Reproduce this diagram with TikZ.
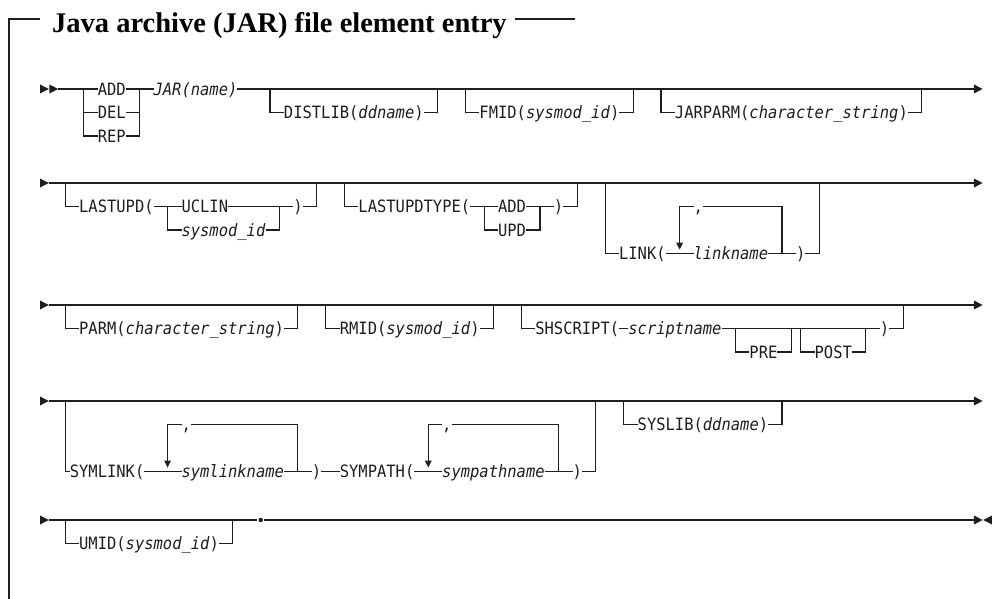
\documentclass[tikz,border=0pt]{standalone}
\usepackage{fontspec}
\setmainfont{Liberation Serif}
\newfontfamily\rrf[FakeStretch=0.91]{DejaVu Sans Mono}
\newcommand\rrsize{\rrf\fontsize{17pt}{17pt}\selectfont}
\newcommand\ttlfont{\rmfamily\bfseries\fontsize{28.5pt}{28.5pt}\selectfont}
\definecolor{ink}{HTML}{1E1E1E}
\begin{document}
\begin{tikzpicture}[x=9.31pt,y=-1pt,
  rail/.style={line width=1.1pt, draw=ink},
  framel/.style={line width=1.2pt, draw=ink},
  lbl/.style={anchor=west, inner sep=0pt, outer sep=0pt, text height=12.4pt, text depth=0pt, font=\rrsize, text=ink},
]
\useasboundingbox (0,0) rectangle (108.163,599);
\newcommand\RA[2]{\fill[ink] (#1,#2-4.5) -- (#1+0.95,#2) -- (#1,#2+4.5) -- cycle;}
\newcommand\LA[2]{\fill[ink] (#1,#2-4.5) -- (#1-0.95,#2) -- (#1,#2+4.5) -- cycle;}
\newcommand\DA[2]{\fill[ink] (#1-0.38,#2-11) -- (#1+0.38,#2-11) -- (#1,#2-4) -- cycle;}
\newcommand\optbox[6]{%
  \node[lbl] (#1) at (#4,#5+23.5) {#6};
  \draw[rail] (#2,#5) |- (#1.west);
  \draw[rail] (#1.east) -| (#3,#5);}

% frame and title
\node[anchor=base west, inner sep=0pt, font=\ttlfont] (title) at (5.585,33) {Java archive (JAR) file element entry};
\coordinate (fbot) at (0.967,599);
\coordinate (ftl) at (0.967,19);
\coordinate (fa) at (4.3,19);
\coordinate (fb) at (61.76,19);
\draw[framel] (fbot) -- (ftl) -- (fa);
\draw[framel] ([xshift=8pt]title.east |- fb) -- (fb);

% ---------------- row 1 ----------------
\RA{4.3}{89}\RA{5.3}{89}
\coordinate (s1) at (6.25,89);
\coordinate (e1) at (104.6,89);
\node[lbl] (add1) at (10.5,89) {ADD};
\node[lbl] (jar) at (16.5,89) {\textit{JAR(name)}};
\node[lbl] (del) at (10.5,112.5) {DEL};
\node[lbl] (rep) at (10.5,136) {REP};
\coordinate (c1a) at (9,89);
\coordinate (c1b) at (15,89);
\draw[rail] (s1) -- (add1.west);
\draw[rail] (add1.east) -- (jar.west);
\draw[rail] (jar.east) -- (e1);
\draw[rail] (c1a) |- (rep.west);
\draw[rail] (c1a |- del.west) -- (del.west);
\draw[rail] (del.east) -- (c1b |- del.east);
\draw[rail] (rep.east) -| (c1b);
\RA{104.6}{89}
\optbox{distlib}{29}{47}{30.5}{89}{DISTLIB(\textit{ddname})}
\optbox{fmid}{50}{68}{51.5}{89}{FMID(\textit{sysmod\_id})}
\optbox{jarparm}{71}{99}{72.5}{89}{JARPARM(\textit{character\_string})}

% ---------------- row 2 ----------------
\RA{4.3}{183}
\coordinate (s2) at (5.25,183);
\coordinate (e2) at (104.6,183);
\draw[rail] (s2) -- (e2);
\RA{104.6}{183}
\node[lbl] (lu) at (8.5,206.5) {LASTUPD(};
\node[lbl] (uclin) at (19.5,206.5) {UCLIN};
\node[lbl] (lusm) at (19.5,230) {\textit{sysmod\_id}};
\node[lbl] (rp1) at (31.5,206.5) {)};
\draw[rail] (7,183) |- (lu.west);
\draw[rail] (lu.east) -- (uclin.west);
\draw[rail] (uclin.east) -- (rp1.west);
\draw[rail] (18,206.5) |- (lusm.west);
\draw[rail] (lusm.east) -| (30,206.5);
\draw[rail] (rp1.east) -| (34,183);
\node[lbl] (lut) at (38.5,206.5) {LASTUPDTYPE(};
\node[lbl] (ladd) at (53.5,206.5) {ADD};
\node[lbl] (lupd) at (53.5,230) {UPD};
\node[lbl] (rp2) at (59.5,206.5) {)};
\draw[rail] (37,183) |- (lut.west);
\draw[rail] (lut.east) -- (ladd.west);
\draw[rail] (ladd.east) -- (rp2.west);
\draw[rail] (52,206.5) |- (lupd.west);
\draw[rail] (lupd.east) -| (58,206.5);
\draw[rail] (rp2.east) -| (62,183);
\node[lbl] (link) at (66.5,253.5) {LINK(};
\node[lbl] (lname) at (74.5,253.5) {\textit{linkname}};
\node[lbl] (rp3) at (85.5,253.5) {)};
\node[lbl] (comma1) at (74.5,206.5) {,};
\draw[rail] (65,183) |- (link.west);
\draw[rail] (link.east) -- (lname.west);
\draw[rail] (lname.east) -- (rp3.west);
\draw[rail] (rp3.east) -| (88,183);
\draw[rail] (73,242.5) |- (comma1.west);
\draw[rail] (comma1.east) -| (84,253.5);
\DA{73}{253.5}

% ---------------- row 3 ----------------
\RA{4.3}{305}
\coordinate (s3) at (5.25,305);
\coordinate (e3) at (104.6,305);
\draw[rail] (s3) -- (e3);
\RA{104.6}{305}
\optbox{parm}{7}{32}{8.5}{305}{PARM(\textit{character\_string})}
\optbox{rmid}{35}{53}{36.5}{305}{RMID(\textit{sysmod\_id})}
\node[lbl] (shs) at (57.5,328.5) {SHSCRIPT(};
\node[lbl] (scr) at (67.5,328.5) {\textit{scriptname}};
\node[lbl] (rp4) at (94.5,328.5) {)};
\node[lbl] (pre) at (80.5,352) {PRE};
\node[lbl] (post) at (87.5,352) {POST};
\draw[rail] (56,305) |- (shs.west);
\draw[rail] (shs.east) -- (scr.west);
\draw[rail] (scr.east) -- (rp4.west);
\draw[rail] (rp4.east) -| (97,305);
\draw[rail] (79,328.5) |- (pre.west);
\draw[rail] (pre.east) -| (85,328.5);
\draw[rail] (86,328.5) |- (post.west);
\draw[rail] (post.east) -| (93,328.5);

% ---------------- row 4 ----------------
\RA{4.3}{401}
\coordinate (s4) at (5.25,401);
\coordinate (e4) at (104.6,401);
\draw[rail] (s4) -- (e4);
\RA{104.6}{401}
\node[lbl] (symlink) at (7.5,471.5) {SYMLINK(};
\node[lbl] (slname) at (19.5,471.5) {\textit{symlinkname}};
\node[lbl] (rp5) at (33.5,471.5) {)};
\node[lbl] (sympath) at (36.5,471.5) {SYMPATH(};
\node[lbl] (spname) at (47.5,471.5) {\textit{sympathname}};
\node[lbl] (rp6) at (61.5,471.5) {)};
\draw[rail] (7,401) |- (symlink.west);
\draw[rail] (symlink.east) -- (slname.west);
\draw[rail] (slname.east) -- (rp5.west);
\draw[rail] (rp5.east) -- (sympath.west);
\draw[rail] (sympath.east) -- (spname.west);
\draw[rail] (spname.east) -- (rp6.west);
\draw[rail] (rp6.east) -| (64,401);
\node[lbl] (comma2) at (19.5,424.5) {,};
\draw[rail] (18,460.5) |- (comma2.west);
\draw[rail] (comma2.east) -| (32,471.5);
\DA{18}{471.5}
\node[lbl] (comma3) at (47.5,424.5) {,};
\draw[rail] (46,460.5) |- (comma3.west);
\draw[rail] (comma3.east) -| (60,471.5);
\DA{46}{471.5}
\optbox{syslib}{67}{84}{68.5}{401}{SYSLIB(\textit{ddname})}

% ---------------- row 5 ----------------
\RA{4.3}{520}
\coordinate (s5) at (5.25,520);
\coordinate (e5) at (104.6,520);
\node[circle, fill=ink, inner sep=0pt, minimum size=4.4pt] (dot) at (28,520) {};
\draw[rail] (s5) -- ([xshift=-3.5pt]dot.center);
\draw[rail] ([xshift=3.5pt]dot.center) -- (e5);
\RA{104.6}{520}\LA{106.55}{520}
\optbox{umid}{7}{25}{8.5}{520}{UMID(\textit{sysmod\_id})}
\end{tikzpicture}
\end{document}
